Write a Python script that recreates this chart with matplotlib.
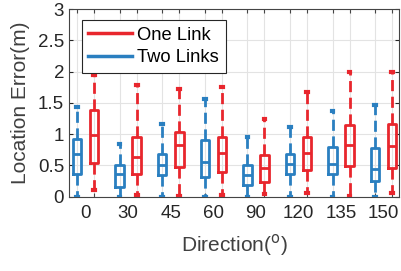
import matplotlib
matplotlib.use("Agg")
import matplotlib.pyplot as plt
from matplotlib.ticker import FixedLocator, NullFormatter, FixedFormatter

plt.rcParams['font.family'] = ['Liberation Sans', 'DejaVu Sans']

directions = ['0', '30', '45', '60', '90', '120', '135', '150']

# One Link (red) statistics
one_q1  = [0.54, 0.36, 0.48, 0.40, 0.24, 0.43, 0.49, 0.46]
one_med = [0.99, 0.63, 0.82, 0.70, 0.46, 0.70, 0.82, 0.81]
one_q3  = [1.38, 0.95, 1.04, 0.96, 0.66, 0.95, 1.14, 1.17]
one_lo  = [0.11, 0.03, 0.01, 0.02, 0.04, 0.06, 0.01, 0.06]
one_hi  = [1.95, 1.79, 1.72, 1.75, 1.25, 1.67, 2.00, 2.00]

# Two Links (blue) statistics
two_q1  = [0.37, 0.16, 0.34, 0.32, 0.19, 0.37, 0.36, 0.25]
two_med = [0.68, 0.36, 0.50, 0.56, 0.35, 0.53, 0.52, 0.44]
two_q3  = [0.92, 0.50, 0.68, 0.91, 0.51, 0.69, 0.80, 0.78]
two_lo  = [0.00, 0.00, 0.00, 0.00, 0.00, 0.00, 0.00, 0.00]
two_hi  = [1.44, 0.84, 1.16, 1.57, 0.96, 1.11, 1.37, 1.47]

RED = '#e8262d'
BLUE = '#2a7fc0'

fig = plt.figure(figsize=(4.01, 2.71), dpi=100)
ax = fig.add_axes([0.172, 0.274, 0.823, 0.692])

def stats(q1, med, q3, lo, hi):
    return [dict(q1=a, med=b, q3=c, whislo=d, whishi=e, fliers=[])
            for a, b, c, d, e in zip(q1, med, q3, lo, hi)]

n = len(directions)
off = 0.2
pos_two = [i - off for i in range(n)]
pos_one = [i + off for i in range(n)]

def draw(st, pos, color):
    lw = 2.0
    ax.bxp(st, positions=pos, widths=0.2, showfliers=False,
           boxprops=dict(color=color, linewidth=lw),
           medianprops=dict(color=color, linewidth=lw),
           whiskerprops=dict(color=color, linewidth=lw, linestyle=(0, (4, 2))),
           capprops=dict(color=color, linewidth=3.0),
           capwidths=0.04, manage_ticks=False, zorder=3)

draw(stats(two_q1, two_med, two_q3, two_lo, two_hi), pos_two, BLUE)
draw(stats(one_q1, one_med, one_q3, one_lo, one_hi), pos_one, RED)

ax.set_xlim(-0.39, n - 1 + 0.36)
ax.set_ylim(0, 3)
ax.set_yticks([0, 0.5, 1, 1.5, 2, 2.5, 3])
ax.set_yticklabels(['0', '0.5', '1', '1.5', '2', '2.5', '3'])

allpos = sorted(pos_two + pos_one)
ax.xaxis.set_major_locator(FixedLocator(allpos))
ax.xaxis.set_major_formatter(NullFormatter())
ax.xaxis.set_minor_locator(FixedLocator(list(range(n))))
ax.xaxis.set_minor_formatter(FixedFormatter(directions))
ax.tick_params(axis='x', which='minor', length=0, labelsize=13.5, pad=6, colors='#262626')
ax.tick_params(axis='x', which='major', direction='in', length=3, top=True, color='#444444')
ax.tick_params(axis='y', direction='in', length=3, right=True, labelsize=13.5, colors='#262626')

ax.grid(True, which='major', color='#e3e3e3', linewidth=0.8, zorder=0)
ax.set_axisbelow(True)
for s in ax.spines.values():
    s.set_color('#444444')
    s.set_linewidth(0.8)

ax.set_xlabel('Direction($^{\\mathrm{o}}$)', fontsize=15, color='#404040', labelpad=7)
ax.set_ylabel('Location Error(m)', fontsize=15, color='#404040', labelpad=6)

h1, = ax.plot([], [], color=RED, linewidth=2.5, label='One Link')
h2, = ax.plot([], [], color=BLUE, linewidth=2.5, label='Two Links')
leg = ax.legend(handles=[h1, h2], loc='upper left', bbox_to_anchor=(0.038, 0.94),
                fontsize=13.2, frameon=True, fancybox=False, framealpha=1,
                edgecolor='#262626', handlelength=2.4, borderpad=0.35,
                labelspacing=0.3, handletextpad=0.3, borderaxespad=0)
leg.get_frame().set_linewidth(0.8)

fig.savefig('out.png', dpi=100)
